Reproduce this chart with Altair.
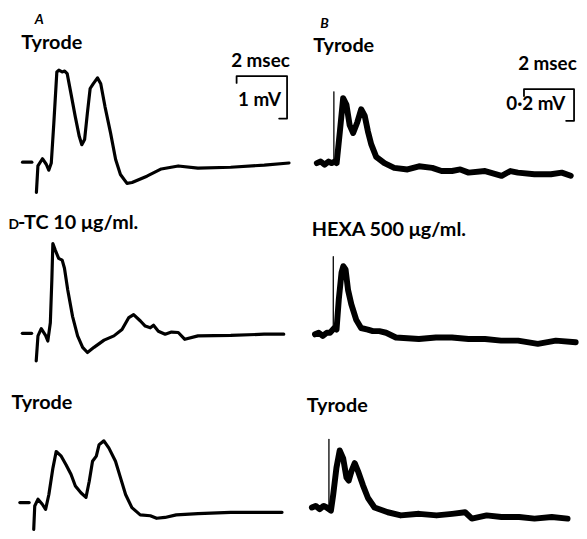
import altair as alt
import pandas as pd

# ---------------- data (time in ms, potential in mV) ----------------
A1_t = [0, 0.06, 0.24, 0.39, 0.49, 0.59, 0.69, 0.81, 0.89, 1.02, 1.12, 1.22, 1.37, 1.54, 1.70, 1.80, 1.91,
        2.02, 2.13, 2.25, 2.42, 2.55, 2.72, 2.94, 3.14, 3.33, 3.59, 3.79, 4.38, 4.95, 5.62, 6.40, 7.70, 9.03, 10.01]
A1_v = [-0.71, -0.09, 0.08, -0.05, -0.19, -0.02, 0.91, 2.12, 2.16, 2.12, 2.14, 2.08, 1.61, 1.07, 0.60, 0.41, 0.53,
        1.15, 1.73, 1.84, 1.98, 1.84, 1.30, 0.68, 0.06, -0.29, -0.50, -0.48, -0.33, -0.16, -0.09, -0.14, -0.12, -0.07, -0.02]

A2_t = [0, 0.07, 0.20, 0.37, 0.46, 0.56, 0.62, 0.66, 0.76, 0.89, 1.03, 1.12, 1.25, 1.44, 1.64, 1.84, 2.03, 2.29,
        2.69, 3.08, 3.40, 3.67, 3.86, 4.13, 4.32, 4.52, 4.65, 4.84, 5.11, 5.36, 5.63, 5.89, 6.41, 7.71, 9.03, 9.81]
A2_v = [-0.65, -0.06, 0.11, -0.05, -0.18, 0.25, 1.26, 2.11, 1.95, 1.76, 1.72, 1.53, 1.02, 0.40, -0.06, -0.33, -0.45, -0.33,
        -0.16, -0.06, 0.09, 0.37, 0.44, 0.29, 0.17, 0.13, 0.19, 0.05, -0.02, 0.03, 0.02, -0.14, -0.06, -0.05, -0.02, -0.02]

A3_t = [0, 0.04, 0.17, 0.34, 0.47, 0.60, 0.76, 0.89, 1.09, 1.28, 1.48, 1.65, 1.87, 2.07, 2.20, 2.33, 2.48, 2.59, 2.78,
        2.98, 3.24, 3.44, 3.64, 3.89, 4.22, 4.62, 4.87, 5.20, 5.65, 6.51, 7.80, 9.13, 9.84]
A3_v = [-0.63, -0.08, 0.08, -0.04, -0.16, 0.19, 0.81, 1.20, 1.09, 0.89, 0.66, 0.39, 0.23, 0.12, 0.50, 0.97, 1.09, 1.36, 1.45,
        1.28, 0.97, 0.58, 0.19, -0.12, -0.29, -0.31, -0.37, -0.35, -0.29, -0.26, -0.23, -0.23, -0.23]

B1_t = [-0.68, -0.53, -0.37, -0.21, -0.09, 0.04, 0.11, 0.24, 0.37, 0.50, 0.63, 0.77, 0.94, 1.09, 1.23, 1.36, 1.49, 1.69,
        2.02, 2.41, 2.94, 3.40, 3.93, 4.30, 4.72, 5.05, 5.38, 6.04, 6.70, 7.05, 7.35, 8.01, 8.67, 9.10, 9.46]
B1_v = [0.0, 0.01, -0.01, 0.01, 0.0, 0.01, 0.0, 0.20, 0.41, 0.37, 0.24, 0.19, 0.26, 0.34, 0.30, 0.20, 0.12, 0.04,
        0.0, -0.03, -0.04, -0.02, -0.03, -0.05, -0.05, -0.04, -0.06, -0.05, -0.08, -0.05, -0.06, -0.07, -0.07, -0.06, -0.08]

B2_t = [-0.73, -0.58, -0.42, -0.26, -0.13, 0.04, 0.13, 0.22, 0.33, 0.40, 0.49, 0.59, 0.72, 0.92, 1.11, 1.38, 1.58, 1.84,
        2.11, 2.50, 3.42, 4.10, 4.74, 5.40, 6.06, 6.70, 7.38, 8.17, 8.89, 9.68]
B2_v = [0.0, 0.01, -0.01, 0.01, 0.01, 0.04, 0.03, 0.22, 0.39, 0.43, 0.41, 0.28, 0.19, 0.09, 0.04, 0.03, 0.02, 0.02,
        0.01, -0.02, -0.03, -0.02, -0.02, -0.03, -0.03, -0.04, -0.04, -0.06, -0.04, -0.05]

B3_t = [-0.68, -0.53, -0.37, -0.21, -0.09, 0.08, 0.17, 0.30, 0.43, 0.57, 0.70, 0.79, 0.90, 1.03, 1.16, 1.36, 1.56, 1.82,
        2.35, 2.87, 3.60, 4.30, 4.92, 5.44, 5.71, 6.30, 6.89, 7.60, 8.21, 8.90, 9.53]
B3_v = [0.0, 0.01, -0.01, 0.01, 0.0, -0.02, 0.08, 0.25, 0.36, 0.31, 0.19, 0.17, 0.23, 0.28, 0.23, 0.14, 0.06, 0.0,
        -0.03, -0.05, -0.04, -0.05, -0.04, -0.03, -0.07, -0.05, -0.06, -0.06, -0.07, -0.06, -0.07]

# stimulus artifacts in B (mV range of the thin spike at t = 0)
artifact_v = {"B1": (0.0, 0.45), "B2": (0.04, 0.49), "B3": (-0.01, 0.43)}
# zero marker dash in A (ms)
dash_t = [-0.55, -0.18]

# calibration bars
scale_ms = 2
scale_mv = {"A": 1, "B": 0.2}

labels = ["Tyrode", "-TC 10 μg/ml.", "Tyrode", "Tyrode", "HEXA 500 μg/ml.", "Tyrode"]

# ---------------- layout (page pixels) ----------------
# panel: (x origin, baseline y, px per ms, px per mV)
layout = {
    "A1": (36.7, 161, 25.5, 43), "A2": (36.5, 334, 25.5, 43), "A3": (34, 505, 25.5, 43),
    "B1": (337.3, 162, 25.3, 160), "B2": (336.7, 335, 25.3, 160), "B3": (332.3, 510, 25.3, 160),
}
series = {"A1": (A1_t, A1_v), "A2": (A2_t, A2_v), "A3": (A3_t, A3_v),
          "B1": (B1_t, B1_v), "B2": (B2_t, B2_v), "B3": (B3_t, B3_v)}

def to_px(p, t, v):
    x0, y0, sx, sy = layout[p]
    return x0 + t * sx, y0 - v * sy

rowsA, rowsB, rowsThin = [], [], []
for p, (ts, vs) in series.items():
    target = rowsA if p.startswith("A") else rowsB
    for i, (t, v) in enumerate(zip(ts, vs)):
        X, Y = to_px(p, t, v)
        target.append({"id": p, "seq": i, "X": X, "Y": Y})
for p in ["A1", "A2", "A3"]:
    for i, t in enumerate(dash_t):
        X, Y = to_px(p, t, 0)
        rowsA.append({"id": p + "dash", "seq": i, "X": X, "Y": Y})
for p, (lo, hi) in artifact_v.items():
    for i, v in enumerate((lo, hi)):
        X, Y = to_px(p, 0, v)
        rowsThin.append({"id": p + "art", "seq": i, "X": X, "Y": Y})

# calibration bars: anchor = top-right corner
bar_anchor = {"A": (290, 74, 25.5, 43), "B": (580, 87.3, 25.3, 160)}
rowsBar = []
for k, (xr, yt, sx, sy) in bar_anchor.items():
    w = scale_ms * sx
    h = scale_mv[k] * sy
    pts = [(xr - w, yt + 7), (xr - w, yt), (xr, yt), (xr, yt + h), (xr - 8, yt + h)]
    for i, (X, Y) in enumerate(pts):
        rowsBar.append({"id": "bar" + k, "seq": i, "X": X, "Y": Y})

text_rows = [
    {"txt": labels[0], "X": 21.5, "Y": 46.5},
    {"txt": labels[1], "X": 18.0, "Y": 228.5},
    {"txt": labels[2], "X": 11.5, "Y": 410},
    {"txt": labels[3], "X": 316.5, "Y": 50},
    {"txt": labels[4], "X": 315, "Y": 236},
    {"txt": labels[5], "X": 310, "Y": 414},
]
cal_rows = [
    {"txt": "2 msec", "X": 233.5, "Y": 65},
    {"txt": "1 mV", "X": 240.5, "Y": 104.5},
    {"txt": "2 msec", "X": 523.5, "Y": 68},
    {"txt": "0·2 mV", "X": 511.5, "Y": 108},
]
small_rows = [{"txt": "D", "X": 8.5, "Y": 228.5}]
letter_rows = [{"txt": "A", "X": 35, "Y": 21}, {"txt": "B", "X": 323.5, "Y": 25.5}]

xs = alt.Scale(domain=[8, 585], nice=False, zero=False)
ys = alt.Scale(domain=[8, 531], nice=False, zero=False, reverse=True)

def line_layer(rows, width):
    return alt.Chart(pd.DataFrame(rows)).mark_line(
        color="black", strokeWidth=width, strokeJoin="round", strokeCap="round"
    ).encode(
        x=alt.X("X:Q", scale=xs, axis=None),
        y=alt.Y("Y:Q", scale=ys, axis=None),
        detail="id:N",
        order="seq:Q",
    )

def text_layer(rows, size, style="normal"):
    return alt.Chart(pd.DataFrame(rows)).mark_text(
        align="left", baseline="alphabetic", font="Lato", fontWeight="bold",
        fontSize=size, fontStyle=style, color="black"
    ).encode(
        x=alt.X("X:Q", scale=xs, axis=None),
        y=alt.Y("Y:Q", scale=ys, axis=None),
        text="txt:N",
    )

chart = alt.layer(
    line_layer(rowsA, 3.2),
    line_layer(rowsB, 6),
    line_layer(rowsThin, 1.3),
    line_layer(rowsBar, 1.8),
    text_layer(text_rows, 20),
    text_layer(cal_rows, 19),
    text_layer(small_rows, 14),
    text_layer(letter_rows, 14, "italic"),
).properties(
    width=577, height=523, padding=0,
    autosize=alt.AutoSizeParams(type="none"),
    background="white",
).configure_view(strokeWidth=0)

chart.save("out.html", embed_options={"renderer": "svg", "actions": False})
